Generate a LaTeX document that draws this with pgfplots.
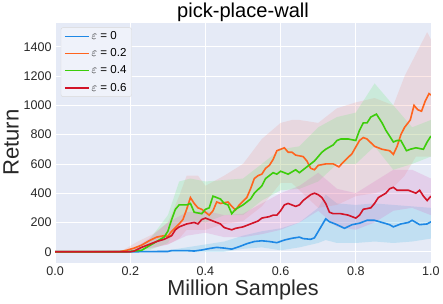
\documentclass[border=0pt]{standalone}
\usepackage{pgfplots}
\pgfplotsset{compat=1.18}
\usepgfplotslibrary{fillbetween}
\usepackage{fontspec}
\setmainfont{Liberation Sans}
\definecolor{bgc}{RGB}{229,234,246}
\definecolor{cblue}{RGB}{30,136,229}
\definecolor{corange}{RGB}{255,100,30}
\definecolor{cgreen}{RGB}{60,205,10}
\definecolor{cred}{RGB}{210,20,40}
\definecolor{fblue}{RGB}{110,200,235}
\definecolor{forange}{RGB}{245,130,120}
\definecolor{fgreen}{RGB}{110,235,120}
\definecolor{fred}{RGB}{220,100,190}
\definecolor{txt}{RGB}{40,40,40}

\pgfplotstableread{
x y
0 0
0.1 0
0.2 0
0.3 2
0.31 8
0.35 8
0.37 5
0.39 12
0.41 22
0.43 30
0.45 25
0.47 18
0.49 35
0.51 55
0.53 70
0.55 75
0.57 70
0.59 62
0.61 80
0.63 92
0.65 100
0.66 90
0.68 85
0.69 95
0.705 160
0.72 225
0.73 205
0.75 185
0.77 160
0.79 185
0.81 195
0.83 215
0.85 215
0.87 200
0.89 185
0.9 170
0.92 190
0.94 200
0.95 215
0.97 185
0.99 190
1.0 205
}\blue
\pgfplotstableread{
x lo hi
0 0 0
0.3 0 10
0.35 0 30
0.4 0 50
0.45 0 70
0.5 20 110
0.55 30 140
0.6 10 160
0.65 30 200
0.7 60 300
0.72 80 390
0.75 60 330
0.8 60 320
0.85 70 330
0.9 60 320
0.95 70 310
1.0 90 300
}\blueband
\pgfplotstableread{
x y
0 0
0.17 0
0.19 10
0.21 25
0.23 45
0.25 75
0.27 100
0.29 110
0.30 105
0.31 140
0.33 190
0.34 220
0.35 290
0.36 370
0.37 330
0.38 300
0.39 290
0.40 270
0.41 250
0.42 280
0.43 340
0.44 330
0.46 340
0.47 310
0.48 285
0.49 320
0.51 370
0.52 430
0.53 500
0.54 520
0.55 530
0.56 570
0.57 590
0.58 630
0.59 690
0.60 700
0.61 710
0.62 680
0.63 680
0.64 660
0.66 650
0.67 620
0.68 570
0.69 560
0.70 590
0.72 600
0.74 600
0.755 580
0.77 620
0.79 670
0.81 760
0.82 780
0.83 770
0.85 720
0.87 700
0.89 690
0.90 665
0.91 720
0.92 800
0.93 850
0.945 900
0.955 1000
0.965 970
0.975 960
0.985 1030
0.995 1080
1.0 1070
}\orange
\pgfplotstableread{
x lo hi
0 0 0
0.18 0 10
0.22 10 70
0.26 30 120
0.3 50 200
0.33 90 380
0.35 150 520
0.38 150 520
0.4 150 450
0.45 190 520
0.5 210 600
0.55 310 770
0.6 470 880
0.63 470 900
0.65 420 900
0.7 300 880
0.75 320 980
0.8 380 1020
0.85 400 1050
0.9 440 1000
0.93 520 1200
0.96 650 1350
0.99 650 1500
1.0 650 1450
}\orangeband
\pgfplotstableread{
x y
0 0
0.19 0
0.21 5
0.23 10
0.25 40
0.27 70
0.29 100
0.30 140
0.31 220
0.32 290
0.33 320
0.35 320
0.36 330
0.37 270
0.39 260
0.40 290
0.41 300
0.42 380
0.43 370
0.44 360
0.45 330
0.46 320
0.47 260
0.48 290
0.50 320
0.52 360
0.53 400
0.55 450
0.56 500
0.58 540
0.59 530
0.60 550
0.62 530
0.64 560
0.65 540
0.66 560
0.68 600
0.69 620
0.71 680
0.72 700
0.74 730
0.75 760
0.76 770
0.78 770
0.80 760
0.81 830
0.82 880
0.83 880
0.84 920
0.855 940
0.87 880
0.88 830
0.89 790
0.90 750
0.91 760
0.92 760
0.935 690
0.945 700
0.96 710
0.98 700
0.99 750
1.0 790
}\green
\pgfplotstableread{
x lo hi
0 0 0
0.2 0 10
0.25 10 80
0.3 60 250
0.33 200 480
0.36 210 500
0.4 200 480
0.45 250 490
0.5 250 500
0.55 350 600
0.6 420 700
0.65 430 720
0.7 480 850
0.75 600 920
0.8 600 950
0.85 720 1150
0.9 560 1000
0.95 600 850
1.0 650 900
}\greenband
\pgfplotstableread{
x y
0 0
0.20 0
0.21 5
0.23 30
0.25 50
0.27 70
0.29 85
0.31 110
0.32 150
0.33 170
0.35 190
0.37 200
0.38 190
0.39 220
0.40 230
0.42 210
0.43 200
0.44 190
0.45 165
0.47 150
0.48 160
0.50 170
0.52 190
0.54 210
0.55 230
0.57 240
0.58 250
0.59 250
0.60 280
0.61 320
0.62 330
0.64 310
0.65 320
0.66 350
0.67 370
0.68 390
0.69 400
0.70 390
0.71 370
0.72 330
0.73 270
0.74 260
0.76 260
0.78 250
0.79 240
0.80 230
0.81 250
0.82 290
0.84 300
0.85 330
0.86 370
0.88 400
0.89 430
0.90 440
0.91 420
0.93 420
0.94 420
0.96 400
0.97 420
0.98 380
0.99 350
1.0 380
}\red
\pgfplotstableread{
x lo hi
0 0 0
0.2 0 10
0.25 20 90
0.3 50 200
0.35 110 270
0.4 130 280
0.45 100 250
0.5 100 260
0.55 120 330
0.6 150 400
0.65 200 450
0.7 280 540
0.75 170 430
0.8 150 400
0.85 200 480
0.9 280 560
0.95 300 560
1.0 250 500
}\redband

\begin{document}
\begin{tikzpicture}
\begin{axis}[
  scale only axis,
  width=374pt, height=239pt,
  xmin=0, xmax=1, ymin=-75, ymax=1565,
  axis background/.style={fill=bgc},
  axis line style={draw=none},
  major tick length=0pt,
  grid=major,
  grid style={white, line width=0.8pt},
  xtick={0,0.2,0.4,0.6,0.8,1.0},
  xticklabels={0.0,0.2,0.4,0.6,0.8,1.0},
  ytick={0,200,400,600,800,1000,1200,1400},
  /pgf/number format/assume math mode=true,
  /pgf/number format/set thousands separator={},
  ticklabel style={font=\fontsize{12.5}{13}\selectfont, text=txt},
  xlabel={Million Samples},
  ylabel={Return},
  xlabel style={font=\fontsize{21.5}{23}\selectfont, text=txt, yshift=2pt},
  ylabel style={font=\fontsize{22}{23}\selectfont, text=txt, yshift=-2pt},
  title={pick-place-wall},
  title style={font=\fontsize{20}{22}\selectfont, text=black, yshift=-9pt},
  legend pos=north west,
  legend style={font=\fontsize{11.5}{13}\selectfont, fill=bgc!60!white, draw=black!15, rounded corners=2pt, row sep=3.5pt, at={(0.015,0.98)}, anchor=north west},
  legend cell align=left,
  legend image code/.code={\draw[#1] (0pt,0pt) -- (24pt,0pt);},
]
\addplot[name path=bhi, draw=none, forget plot] table[x=x, y=hi] {\blueband};
\addplot[name path=blo, draw=none, forget plot] table[x=x, y=lo] {\blueband};
\addplot[fblue, fill opacity=0.3, forget plot] fill between[of=bhi and blo];
\addplot[name path=ohi, draw=none, forget plot] table[x=x, y=hi] {\orangeband};
\addplot[name path=olo, draw=none, forget plot] table[x=x, y=lo] {\orangeband};
\addplot[forange, fill opacity=0.18, forget plot] fill between[of=ohi and olo];
\addplot[name path=ghi, draw=none, forget plot] table[x=x, y=hi] {\greenband};
\addplot[name path=glo, draw=none, forget plot] table[x=x, y=lo] {\greenband};
\addplot[fgreen, fill opacity=0.22, forget plot] fill between[of=ghi and glo];
\addplot[name path=rhi, draw=none, forget plot] table[x=x, y=hi] {\redband};
\addplot[name path=rlo, draw=none, forget plot] table[x=x, y=lo] {\redband};
\addplot[fred, fill opacity=0.2, forget plot] fill between[of=rhi and rlo];

\addplot[cblue, line width=1.6pt] table[x=x, y=y] {\blue};
\addlegendentry{$\varepsilon$ = 0}
\addplot[corange, line width=1.6pt] table[x=x, y=y] {\orange};
\addlegendentry{$\varepsilon$ = 0.2}
\addplot[cgreen, line width=1.6pt] table[x=x, y=y] {\green};
\addlegendentry{$\varepsilon$ = 0.4}
\addplot[cred, line width=1.6pt] table[x=x, y=y] {\red};
\addlegendentry{$\varepsilon$ = 0.6}
\end{axis}
\end{tikzpicture}
\end{document}
